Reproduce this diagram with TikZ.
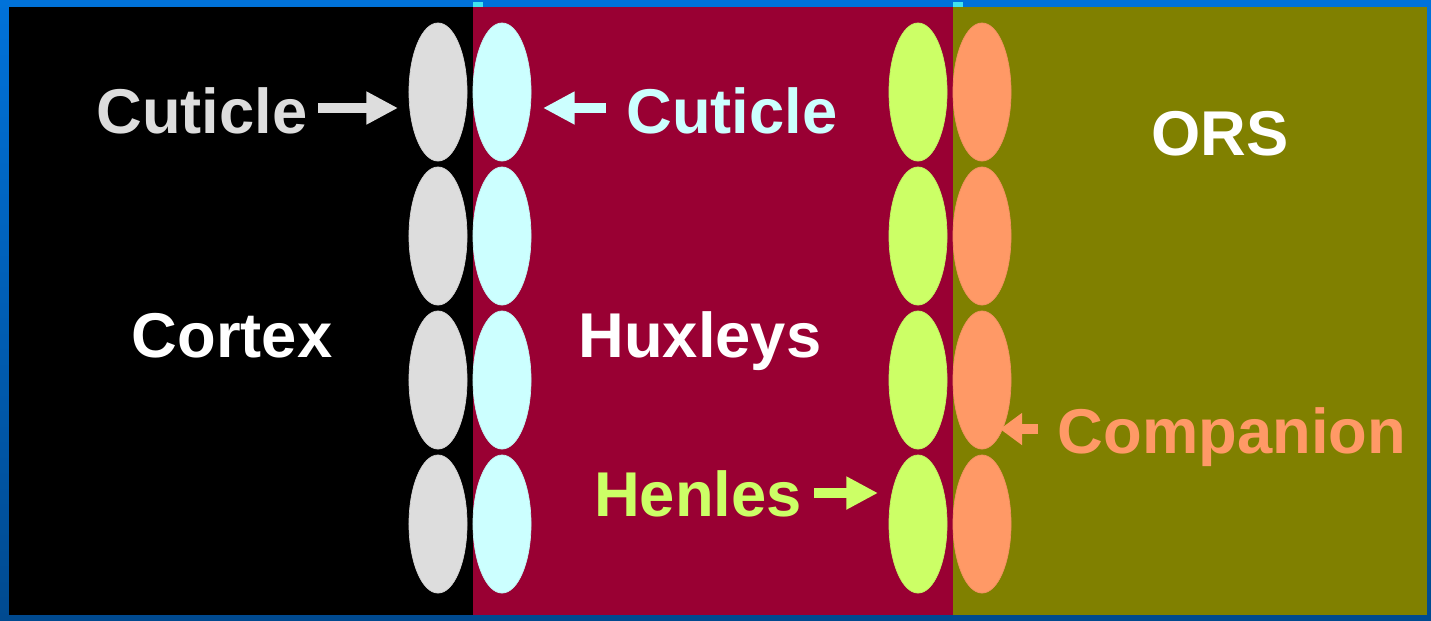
\documentclass[tikz,border=0pt]{standalone}
\usepackage{fontspec}
\setmainfont{Liberation Sans}
\usetikzlibrary{shapes.geometric,arrows.meta}
\definecolor{bgtop}{HTML}{0072DA}
\definecolor{bgbot}{HTML}{004A90}
\definecolor{maroonc}{HTML}{990033}
\definecolor{olivec}{HTML}{808000}
\definecolor{grayc}{HTML}{DDDDDD}
\definecolor{cyanc}{HTML}{CCFFFF}
\definecolor{greenc}{HTML}{CCFF66}
\definecolor{orangec}{HTML}{FF9966}
\definecolor{markc}{HTML}{40E4F0}
\tikzset{
  cell/.style={ellipse, minimum width=0.58cm, minimum height=1.38cm, inner sep=0pt, draw=#1!95!black, line width=0.2pt, fill=#1},
  lbl/.style={font=\fontsize{18pt}{21pt}\selectfont\bfseries, text=#1, anchor=base, inner sep=0pt},
  arr/.style={draw=#1, line width=3pt, -{Triangle[length=9pt,width=8.8pt]}},
  arrs/.style={draw=#1, line width=3pt, -{Triangle[length=6.3pt,width=8.8pt]}}
}
\begin{document}
\begin{tikzpicture}[x=0.01cm,y=-0.01cm]
\shade[top color=bgtop, bottom color=bgbot] (0,0) rectangle (1431,620);
\useasboundingbox (0,0) rectangle (1431,620);
% panels
\fill[black] (9,7) rectangle (473,615);
\fill[maroonc] (473,7) rectangle (953,615);
\fill[olivec] (953,7) rectangle (1427,615);
\fill[markc] (473,2) rectangle (483,7);
\fill[markc] (953,2) rectangle (963,7);
% cells
\foreach \r/\y in {1/92,2/236,3/380,4/524}{
  \node[cell=grayc] (g\r) at (438,\y) {};
  \node[cell=cyanc] (c\r) at (502,\y) {};
  \node[cell=greenc] (h\r) at (918,\y) {};
  \node[cell=orangec] (o\r) at (982,\y) {};
}
% labels
\node[lbl=grayc] (cutL) at (202,133) {Cuticle};
\node[lbl=cyanc] (cutR) at (732,133) {Cuticle};
\node[lbl=white] (cortex) at (232,357) {Cortex};
\node[lbl=white] (hux) at (700,357) {Huxleys};
\node[lbl=white] (ors) at (1220,155) {ORS};
\node[lbl=orangec] (comp) at (1232,453) {Companion};
\node[lbl=greenc] (henle) at (698,516) {Henles};
% arrows
\coordinate (a1s) at (318,108);
\coordinate (a1e) at (398,108);
\coordinate (a2s) at (606,108);
\coordinate (a2e) at (543,108);
\coordinate (a3s) at (814,493);
\coordinate (a3e) at (878,493);
\coordinate (a4s) at (1038,429);
\coordinate (a4e) at (1000,429);
\draw[arr=grayc] (a1s) -- (a1e);
\draw[arr=cyanc] (a2s) -- (a2e);
\draw[arr=greenc] (a3s) -- (a3e);
\draw[arrs=orangec] (a4s) -- (a4e);
\end{tikzpicture}
\end{document}
